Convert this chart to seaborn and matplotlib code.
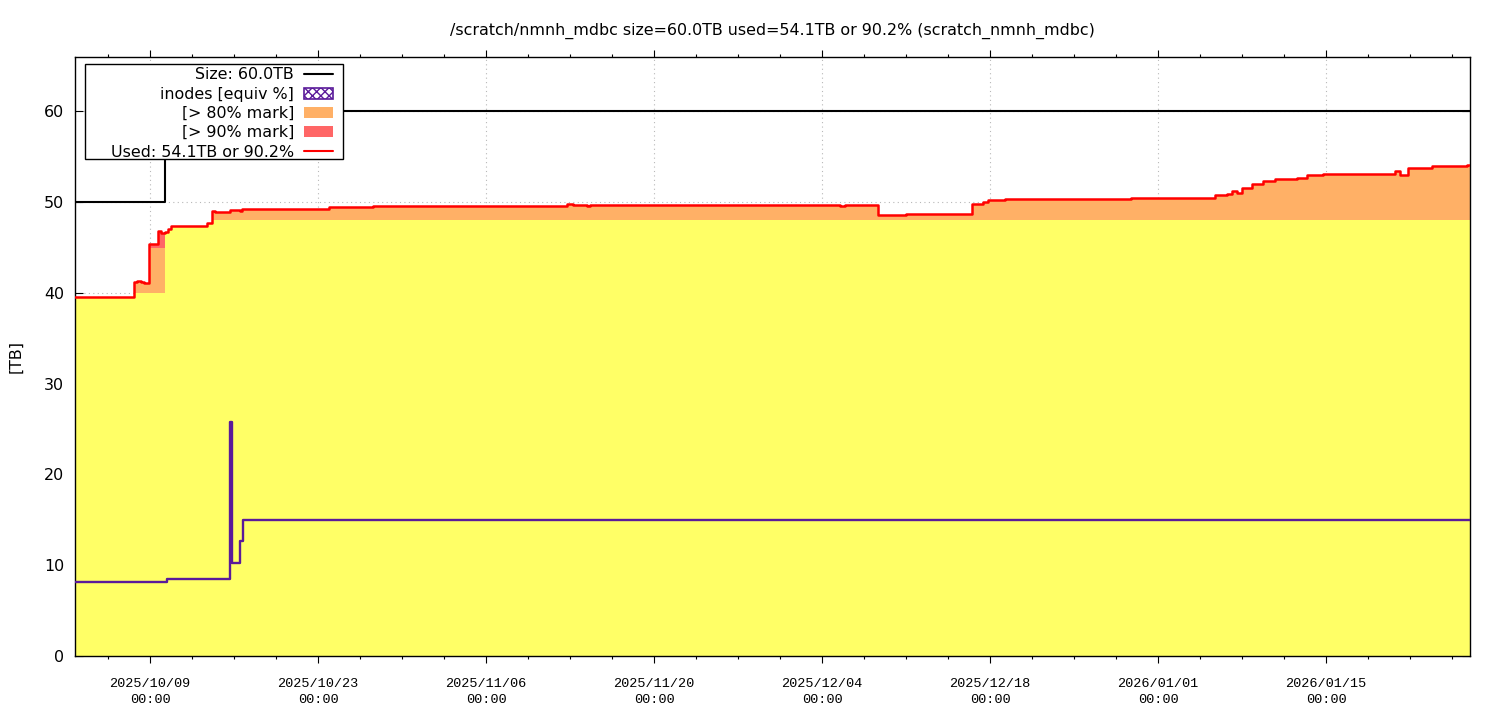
import numpy as np
import pandas as pd
import matplotlib
matplotlib.use('Agg')
import matplotlib.pyplot as plt
import matplotlib.dates as mdates
from matplotlib.lines import Line2D
from matplotlib.patches import Patch, Rectangle
import seaborn as sns

# --- data ---
used_times = [
    '2025-10-02 18:00', '2025-10-07 16:00', '2025-10-07 22:00', '2025-10-08 06:00',
    '2025-10-08 12:00', '2025-10-08 22:00', '2025-10-09 16:00', '2025-10-09 22:00',
    '2025-10-10 06:00', '2025-10-10 12:00', '2025-10-10 18:00', '2025-10-13 18:00',
    '2025-10-14 04:00', '2025-10-14 10:00', '2025-10-15 16:00', '2025-10-16 12:00',
    '2025-10-16 16:00', '2025-10-23 22:00', '2025-10-27 14:00', '2025-11-03 20:00',
    '2025-11-12 18:00', '2025-11-13 06:00', '2025-11-14 10:00', '2025-11-14 16:00',
    '2025-12-05 12:00', '2025-12-05 22:00', '2025-12-08 16:00', '2025-12-11 00:00',
    '2025-12-16 12:00', '2025-12-17 10:00', '2025-12-17 20:00', '2025-12-19 06:00',
    '2025-12-29 18:00', '2026-01-05 18:00', '2026-01-06 18:00', '2026-01-07 04:00',
    '2026-01-07 14:00', '2026-01-08 00:00', '2026-01-08 20:00', '2026-01-09 18:00',
    '2026-01-10 18:00', '2026-01-12 14:00', '2026-01-13 10:00', '2026-01-14 18:00',
    '2026-01-20 18:00', '2026-01-21 04:00', '2026-01-21 20:00', '2026-01-23 20:00',
    '2026-01-26 18:00', '2026-01-27 00:00',
]
used_tb = [
    39.5, 41.2, 41.3, 41.2,
    41.1, 45.4, 46.8, 46.6,
    46.7, 47.0, 47.4, 47.7,
    49.0, 48.9, 49.1, 49.0,
    49.2, 49.45, 49.6, 49.55,
    49.8, 49.7, 49.6, 49.65,
    49.55, 49.65, 48.55, 48.7,
    49.8, 50.0, 50.2, 50.35,
    50.45, 50.8, 50.9, 51.2,
    51.05, 51.6, 52.0, 52.3,
    52.5, 52.7, 53.0, 53.15,
    53.4, 53.0, 53.8, 54.0,
    54.1, 54.1,
]

size_times = ['2025-10-02 18:00', '2025-10-10 06:00', '2026-01-27 00:00']
size_tb = [50.0, 60.0, 60.0]

inode_times = ['2025-10-02 18:00', '2025-10-10 10:00', '2025-10-15 16:00',
               '2025-10-15 20:00', '2025-10-16 12:00', '2025-10-16 18:00',
               '2026-01-27 00:00']
inode_tb = [8.1, 8.45, 25.8, 10.3, 12.7, 14.95, 14.95]

tick_dates = ['2025-10-09', '2025-10-23', '2025-11-06', '2025-11-20',
              '2025-12-04', '2025-12-18', '2026-01-01', '2026-01-15']
x_start, x_end = '2025-10-02 18:00', '2026-01-27 00:00'

title_text = '/scratch/nmnh_mdbc size=60.0TB used=54.1TB or 90.2% (scratch_nmnh_mdbc)'
legend_labels = ['Size: 60.0TB', 'inodes [equiv %]', '[> 80% mark]',
                 '[> 90% mark]', 'Used: 54.1TB or 90.2%']

YELLOW = '#ffff66'
ORANGE = '#ffb066'
RED_FILL = '#ff6666'
RED_LINE = '#ff0000'
PURPLE = '#5a1a9a'
FS = 11.4

sns.set_theme(style='white')
plt.rcParams['font.family'] = ['DejaVu Sans']
plt.rcParams.update({'text.color': 'black', 'axes.labelcolor': 'black',
                     'xtick.color': 'black', 'ytick.color': 'black'})

used = pd.DataFrame({'time': pd.to_datetime(used_times), 'tb': used_tb})
size_s = pd.Series(size_tb, index=pd.to_datetime(size_times))
used['size'] = size_s.reindex(used['time'], method='ffill').values
inodes = pd.DataFrame({'time': pd.to_datetime(inode_times), 'tb': inode_tb})
size_df = pd.DataFrame({'time': size_s.index, 'tb': size_s.values})

lo80 = used['size'] * 0.8
hi90 = used['size'] * 0.9
yellow_top = np.minimum(used['tb'], lo80)
orange_top = np.clip(used['tb'], lo80, hi90)
red_top = np.maximum(used['tb'], hi90)

fig = plt.figure(figsize=(15, 7.2), dpi=100)
ax = fig.add_axes([0.05, 0.0889, 0.93, 0.832])
ax.set_axisbelow(True)

ax.fill_between(used['time'], 0, yellow_top, step='post', color=YELLOW, lw=0, zorder=1)
ax.fill_between(used['time'], lo80, orange_top, step='post', color=ORANGE, lw=0, zorder=1)
ax.fill_between(used['time'], hi90, red_top, step='post', color=RED_FILL, lw=0, zorder=1)

sns.lineplot(data=inodes, x='time', y='tb', ax=ax, color=PURPLE, lw=1.7,
             drawstyle='steps-post', legend=False, zorder=3)
sns.lineplot(data=size_df, x='time', y='tb', ax=ax, color='black', lw=1.5,
             drawstyle='steps-post', legend=False, zorder=3)
sns.lineplot(data=used, x='time', y='tb', ax=ax, color=RED_LINE, lw=1.8,
             drawstyle='steps-post', legend=False, zorder=4)

ax.set_xlim(pd.Timestamp(x_start), pd.Timestamp(x_end))
ax.set_ylim(0, 66)
ax.set_yticks(np.arange(0, 61, 10))
ax.set_xticks(pd.to_datetime(tick_dates))
ax.set_xticks(pd.date_range('2025-10-05 12:00', x_end, freq='84h'), minor=True)
ax.xaxis.set_major_formatter(mdates.DateFormatter('%Y/%m/%d\n%H:%M'))

ax.tick_params(axis='x', which='both', direction='out', top=True, bottom=True,
               color='black', width=0.8, pad=11)
ax.tick_params(axis='x', which='major', length=5)
ax.tick_params(axis='x', which='minor', length=2.5)
ax.tick_params(axis='y', which='major', direction='in', left=True, right=True,
               length=6, width=0.8, pad=8, labelsize=FS, color='black')
for lab in ax.get_xticklabels():
    lab.set_family(['Liberation Mono', 'DejaVu Sans Mono'])
    lab.set_fontsize(9.7)
    lab.set_linespacing(1.4)

ax.grid(True, which='major', ls=(0, (1, 3)), color='#b8b8b8', lw=0.8)
for sp in ax.spines.values():
    sp.set_color('black')
    sp.set_linewidth(1.0)

ax.set_xlabel('')
ax.set_ylabel('[TB]', fontsize=FS, labelpad=15)
ax.set_title(title_text, fontsize=FS, pad=16)

handles = [
    Line2D([], [], color='black', lw=1.5),
    Patch(facecolor='white', edgecolor=PURPLE, hatch='xxxx', lw=1.2),
    Patch(facecolor=ORANGE, edgecolor='none'),
    Patch(facecolor=RED_FILL, edgecolor='none'),
    Line2D([], [], color=RED_LINE, lw=1.5),
]
# legend box drawn separately to get gnuplot-like padding
ax.add_patch(Rectangle((0.00717, 0.8297), 0.185, 0.1586, transform=ax.transAxes,
                       facecolor='white', edgecolor='black', lw=1.0, zorder=9))
leg = ax.legend(handles, legend_labels, loc='upper right', bbox_to_anchor=(0.1849, 0.9825),
                borderaxespad=0, markerfirst=False, fontsize=FS, frameon=False,
                handlelength=1.8, handletextpad=0.65, labelspacing=0.27, borderpad=0)
leg.set_zorder(10)

fig.savefig('out.png', dpi=100)
